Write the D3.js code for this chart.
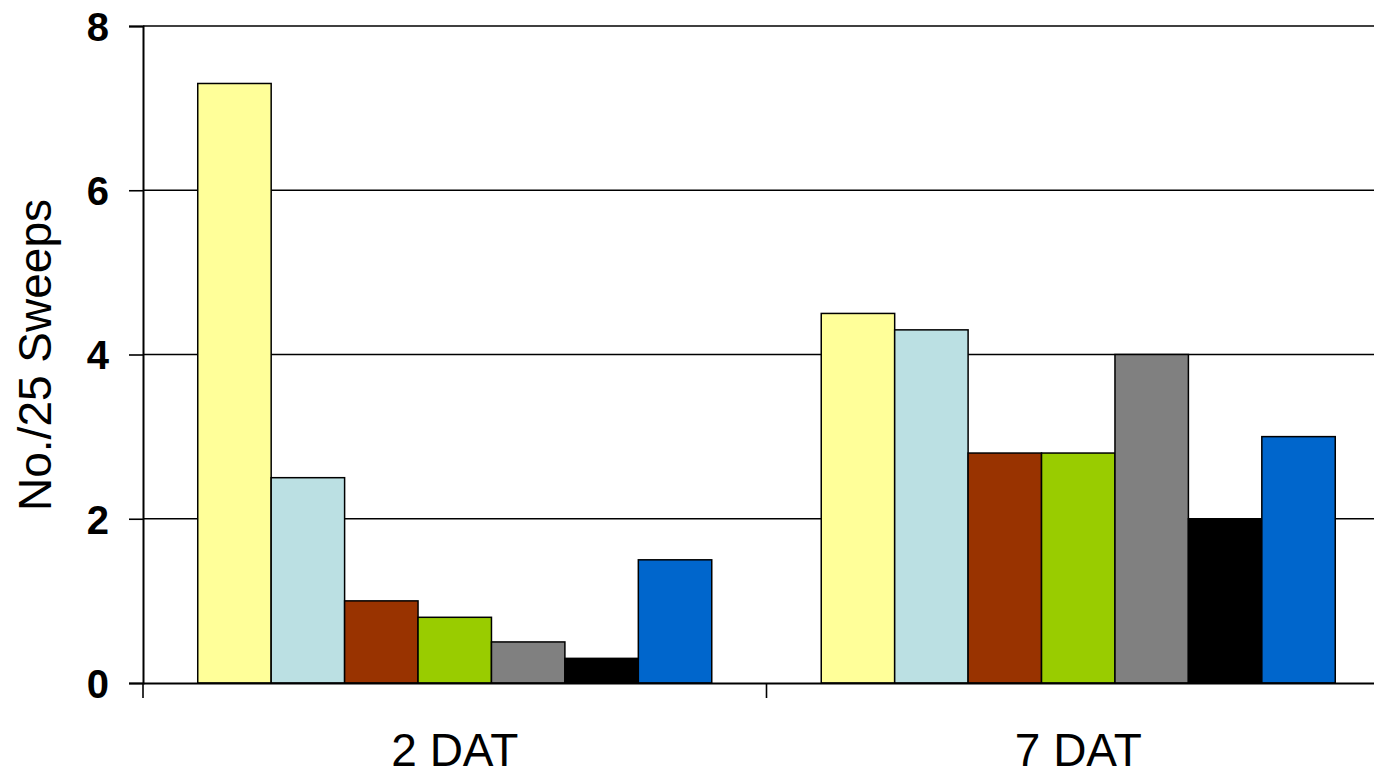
<!DOCTYPE html>
<html>
<head>
<meta charset="utf-8">
<script src="https://cdn.jsdelivr.net/npm/d3@7"></script>
<style>
  html, body { margin: 0; padding: 0; background: #fff; }
  svg { display: block; }
</style>
</head>
<body>
<svg id="chart" width="1374" height="770"></svg>
<script>
const categories = ["2 DAT", "7 DAT"];
const seriesNames = ["S1", "S2", "S3", "S4", "S5", "S6", "S7"];
const seriesColors = ["#FFFF99", "#BBE0E3", "#993300", "#99CC00", "#808080", "#000000", "#0066CC"];
const values2DAT = [7.3, 2.5, 1.0, 0.8, 0.5, 0.3, 1.5];
const values7DAT = [4.5, 4.3, 2.8, 2.8, 4.0, 2.0, 3.0];
const yTicks = [0, 2, 4, 6, 8];
const yTitle = "No./25 Sweeps";

const valuesByCategory = [values2DAT, values7DAT];
const data = categories.map((c, i) => ({
  category: c,
  values: seriesNames.map((s, j) => ({ series: s, value: valuesByCategory[i][j], color: seriesColors[j] }))
}));

const svg = d3.select("#chart");
const plotLeft = 143, plotRight = 1390, plotTop = 26, plotBottom = 683;

const x = d3.scaleBand().domain(categories).range([plotLeft, plotRight]).paddingInner(0).paddingOuter(0);
const gapFrac = 0.0878;
const xInner = d3.scaleBand().domain(seriesNames)
  .range([x.bandwidth() * gapFrac, x.bandwidth() * (1 - gapFrac)]).padding(0);
const y = d3.scaleLinear().domain([0, 8]).range([plotBottom, plotTop]);

// gridlines
svg.append("g")
  .selectAll("line")
  .data(yTicks.filter(t => t > 0))
  .join("line")
  .attr("x1", plotLeft).attr("x2", plotRight)
  .attr("y1", d => y(d)).attr("y2", d => y(d))
  .attr("stroke", "#000").attr("stroke-width", 1.6);

// bars
const groups = svg.append("g").selectAll("g")
  .data(data).join("g")
  .attr("transform", d => `translate(${x(d.category)},0)`);
groups.selectAll("rect")
  .data(d => d.values).join("rect")
  .attr("x", d => xInner(d.series))
  .attr("width", xInner.bandwidth())
  .attr("y", d => y(d.value))
  .attr("height", d => y(0) - y(d.value))
  .attr("fill", d => d.color)
  .attr("stroke", "#000").attr("stroke-width", 1.5);

// y axis
const yAxis = svg.append("g")
  .attr("transform", `translate(${plotLeft},0)`)
  .call(d3.axisLeft(y).tickValues(yTicks).tickSize(14).tickPadding(20).tickFormat(d3.format("d")));
yAxis.select(".domain").attr("stroke", "#000").attr("stroke-width", 2);
yAxis.selectAll(".tick line").attr("stroke", "#000").attr("stroke-width", 1.6);
yAxis.selectAll(".tick text")
  .attr("font-family", "Liberation Sans, Arial, sans-serif")
  .attr("font-weight", "bold").attr("font-size", 40).attr("fill", "#000")
  .attr("dy", "0.36em");

// x axis
const xAxis = svg.append("g")
  .attr("transform", `translate(0,${plotBottom})`)
  .call(d3.axisBottom(x).tickSize(0).tickPadding(0));
xAxis.select(".domain").attr("stroke", "#000").attr("stroke-width", 2.2);
xAxis.selectAll(".tick text")
  .attr("font-family", "Liberation Sans, Arial, sans-serif")
  .attr("font-size", 46).attr("fill", "#000")
  .attr("dy", 0).attr("y", 83);
xAxis.append("g").selectAll("line")
  .data(categories)
  .join("line")
  .attr("x1", d => x(d)).attr("x2", d => x(d))
  .attr("y1", 0).attr("y2", 15)
  .attr("stroke", "#000").attr("stroke-width", 1.6);

// y title
svg.append("text")
  .attr("transform", `translate(51,355) rotate(-90)`)
  .attr("text-anchor", "middle")
  .attr("font-family", "Liberation Sans, Arial, sans-serif")
  .attr("font-size", 46).attr("fill", "#000")
  .text(yTitle);
</script>
</body>
</html>
